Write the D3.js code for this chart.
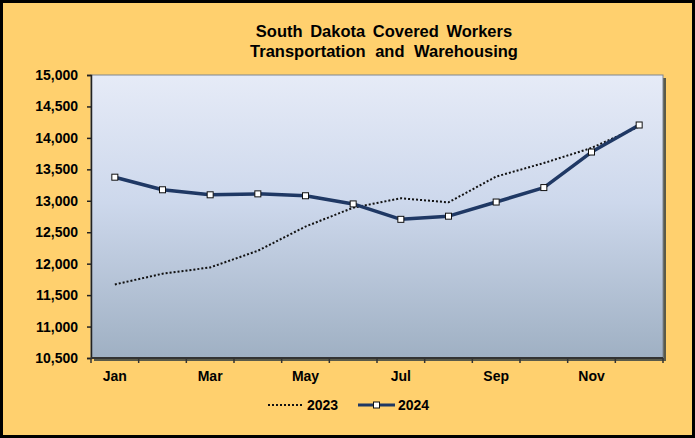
<!DOCTYPE html>
<html>
<head>
<meta charset="utf-8">
<script src="https://cdn.jsdelivr.net/npm/d3@7"></script>
<style>
  body { margin: 0; background: #fff; }
  text { font-family: Arial, "Liberation Sans", sans-serif; font-weight: bold; fill: #000; }
</style>
</head>
<body>
<div id="chart"></div>
<script>
// chart data
let months = ["Jan", "Feb", "Mar", "Apr", "May", "Jun", "Jul", "Aug", "Sep", "Oct", "Nov", "Dec"];
let workers2023 = [11670, 11840, 11940, 12205, 12590, 12890, 13040, 12975, 13385, 13600, 13840, 14180];
let workers2024 = [13375, 13175, 13095, 13110, 13080, 12950, 12705, 12755, 12980, 13210, 13775, 14205];
let yTicks = [10500, 11000, 11500, 12000, 12500, 13000, 13500, 14000, 14500, 15000];
let xLabels = ["Jan", "Mar", "May", "Jul", "Sep", "Nov"];

let svgWidth = 695;
let svgHeight = 438;

let margin = { top: 75, right: 32, bottom: 80, left: 91 };
let width = 663 - margin.left;
let height = 358 - margin.top;

let svg = d3.select("#chart")
  .append("svg")
  .attr("width", svgWidth)
  .attr("height", svgHeight);

// background + frame
svg.append("rect")
  .attr("x", 1.5).attr("y", 1.5)
  .attr("width", svgWidth - 3).attr("height", svgHeight - 3)
  .attr("fill", "#ffd06e")
  .attr("stroke", "#000")
  .attr("stroke-width", 3);

// gradient for plot area
let defs = svg.append("defs");
let grad = defs.append("linearGradient")
  .attr("id", "plotGrad")
  .attr("x1", 0).attr("y1", 0).attr("x2", 0).attr("y2", 1);
grad.append("stop").attr("offset", "0%").attr("stop-color", "#e6ebf7");
grad.append("stop").attr("offset", "45%").attr("stop-color", "#cdd8ec");
grad.append("stop").attr("offset", "100%").attr("stop-color", "#9fb0c3");

// title
svg.append("text")
  .attr("x", 384).attr("y", 37)
  .attr("text-anchor", "middle")
  .style("font-size", "16.5px")
  .style("word-spacing", "3px")
  .text("South Dakota Covered Workers");
svg.append("text")
  .attr("x", 384).attr("y", 57)
  .attr("text-anchor", "middle")
  .style("font-size", "16.5px")
  .style("word-spacing", "5px")
  .text("Transportation and Warehousing");

let chartGroup = svg.append("g")
  .attr("transform", `translate(${margin.left}, ${margin.top})`);

// shadow + plot area
chartGroup.append("rect")
  .attr("x", 3).attr("y", 3)
  .attr("width", width).attr("height", height)
  .attr("fill", "#5a5a4a");
chartGroup.append("rect")
  .attr("width", width).attr("height", height)
  .attr("fill", "url(#plotGrad)")
  .attr("stroke", "#7f8590")
  .attr("stroke-width", 1);

let xScale = d3.scaleBand()
  .domain(months)
  .range([0, width]);

let yScale = d3.scaleLinear()
  .domain([10500, 15000])
  .range([height, 0]);

let cx = d => xScale(d) + xScale.bandwidth() / 2;

// y axis
let leftAxis = d3.axisLeft(yScale)
  .tickValues(yTicks)
  .tickFormat(d3.format(","))
  .tickSize(4)
  .tickPadding(9);
let yAxisG = chartGroup.append("g").call(leftAxis);
yAxisG.select(".domain").attr("stroke", "#222").attr("stroke-width", 1.5);
yAxisG.selectAll(".tick line").attr("stroke", "#222").attr("stroke-width", 1.5);
yAxisG.selectAll("text")
  .style("font-size", "14px")
  .style("font-family", "Arial, 'Liberation Sans', sans-serif")
  .style("font-weight", "bold")
  .attr("fill", "#000");

// x axis: ticks between categories
let xTickPos = d3.range(months.length + 1).map(i => i * xScale.step());
let xAxisG = chartGroup.append("g").attr("transform", `translate(0, ${height})`);
xAxisG.append("line")
  .attr("x1", 0).attr("x2", width)
  .attr("stroke", "#333").attr("stroke-width", 2);
xAxisG.selectAll(".xtick")
  .data(xTickPos)
  .join("line")
  .attr("class", "xtick")
  .attr("x1", d => d).attr("x2", d => d)
  .attr("y1", 0).attr("y2", 5)
  .attr("stroke", "#333").attr("stroke-width", 1.5);
xAxisG.selectAll(".xlabel")
  .data(xLabels)
  .join("text")
  .attr("class", "xlabel")
  .attr("x", d => cx(d))
  .attr("y", 23)
  .attr("text-anchor", "middle")
  .style("font-size", "14px")
  .text(d => d);

// lines
let line = d3.line()
  .x((d, i) => cx(months[i]))
  .y(d => yScale(d));

chartGroup.append("path")
  .datum(workers2023)
  .attr("d", line)
  .attr("fill", "none")
  .attr("stroke", "#111")
  .attr("stroke-width", 2)
  .attr("stroke-dasharray", "2,2");

chartGroup.append("path")
  .datum(workers2024)
  .attr("d", line)
  .attr("fill", "none")
  .attr("stroke", "#1f3864")
  .attr("stroke-width", 3.5)
  .attr("stroke-linejoin", "round");

chartGroup.selectAll(".marker")
  .data(workers2024)
  .join("rect")
  .attr("class", "marker")
  .attr("x", (d, i) => cx(months[i]) - 3)
  .attr("y", d => yScale(d) - 3)
  .attr("width", 6).attr("height", 6)
  .attr("fill", "#fff")
  .attr("stroke", "#111")
  .attr("stroke-width", 1);

// legend
let legend = svg.append("g").attr("transform", "translate(0, 405)");
legend.append("line")
  .attr("x1", 268).attr("x2", 303)
  .attr("stroke", "#111").attr("stroke-width", 2)
  .attr("stroke-dasharray", "2,2");
legend.append("text")
  .attr("x", 307).attr("y", 5)
  .style("font-size", "14px")
  .text("2023");
legend.append("line")
  .attr("x1", 358).attr("x2", 395)
  .attr("stroke", "#1f3864").attr("stroke-width", 3);
legend.append("rect")
  .attr("x", 373.5).attr("y", -3)
  .attr("width", 6).attr("height", 6)
  .attr("fill", "#fff").attr("stroke", "#111");
legend.append("text")
  .attr("x", 398).attr("y", 5)
  .style("font-size", "14px")
  .text("2024");
</script>
</body>
</html>
